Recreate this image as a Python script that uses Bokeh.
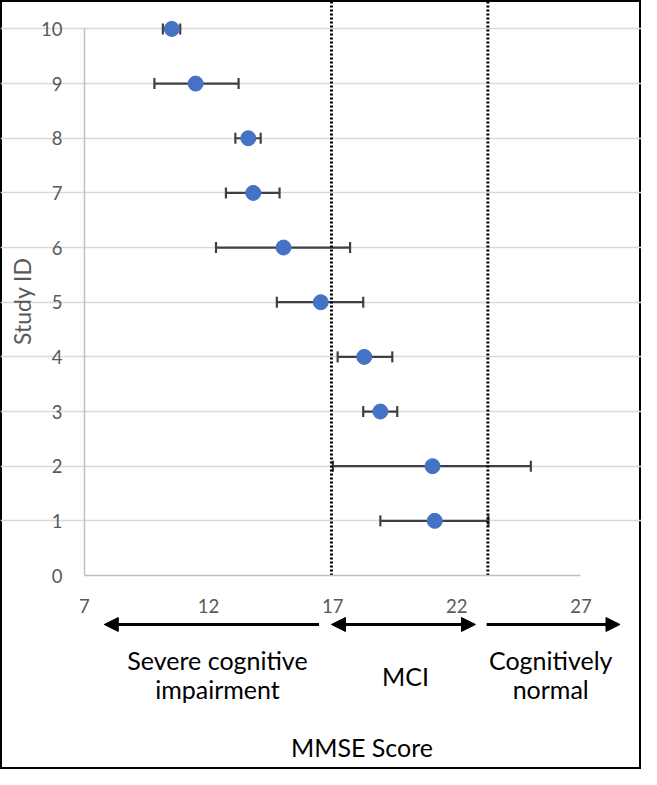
from bokeh.plotting import figure
from bokeh.models import (Range1d, FixedTicker, ColumnDataSource, Whisker, TeeHead,
                          Arrow, NormalHead, LinearAxis, Grid)
from bokeh.embed import file_html
from bokeh.resources import INLINE
from bokeh.core.properties import value
import math

# ---- data ----
study_id = [1, 2, 3, 4, 5, 6, 7, 8, 9, 10]
mmse_mean = [21.11, 21.02, 18.92, 18.27, 16.52, 15.02, 13.80, 13.60, 11.48, 10.52]
ci_low = [18.92, 17.01, 18.23, 17.20, 14.75, 12.30, 12.70, 13.08, 9.82, 10.16]
ci_high = [23.27, 24.98, 19.60, 19.40, 18.23, 17.70, 14.86, 14.10, 13.21, 10.86]

x_ticks = [7, 12, 17, 22, 27]
y_ticks = [0, 1, 2, 3, 4, 5, 6, 7, 8, 9, 10]
cutoffs = [16.95, 23.25]

category_names = ["Severe cognitive\nimpairment", "MCI", "Cognitively\nnormal"]
category_from = [16.45, 16.95, 23.20]
category_to = [7.80, 22.75, 28.57]
category_start_head = [False, True, False]

FONT = "Lato"
GRAY_TXT = "#595959"

p = figure(width=641, height=769, output_backend="svg", toolbar_location=None,
           x_range=Range1d(3.621, 29.437), y_range=Range1d(-3.549, 10.52),
           min_border=0, min_border_left=0, min_border_right=0,
           min_border_top=0, min_border_bottom=0,
           x_axis_type=None, y_axis_type=None)
p.outline_line_color = "black"
p.outline_line_width = 3
p.background_fill_color = "white"
p.border_fill_color = "white"

# axes fixed inside the frame
xaxis = LinearAxis(ticker=FixedTicker(ticks=x_ticks), fixed_location=0, bounds=(7, 27))
yaxis = LinearAxis(ticker=FixedTicker(ticks=y_ticks), fixed_location=7, bounds=(0, 10))
for ax in (xaxis, yaxis):
    ax.axis_line_color = "#bfbfbf"
    ax.axis_line_width = 1.5
    ax.major_tick_line_color = None
    ax.minor_tick_line_color = None
    ax.major_tick_out = 0
    ax.major_tick_in = 0
    ax.major_label_text_font = FONT
    ax.major_label_text_font_size = "18.5px"
    ax.major_label_text_color = GRAY_TXT
xaxis.major_label_standoff = 23
yaxis.major_label_standoff = 22
p.add_layout(xaxis, "below")
p.add_layout(yaxis, "left")

# horizontal gridlines bounded to the data area
g = Grid(dimension=1, ticker=FixedTicker(ticks=y_ticks[1:]), bounds=(7, 27))
g.grid_line_color = "#d9d9d9"
g.grid_line_width = 1.5
p.add_layout(g)

# cut-off dotted lines
p.segment(x0=cutoffs, y0=[0] * len(cutoffs), x1=cutoffs, y1=[p.y_range.end] * len(cutoffs),
          line_color="black", line_width=3, line_dash="2 2")

src = ColumnDataSource(dict(y=study_id, x=mmse_mean, lo=ci_low, hi=ci_high))
w = Whisker(source=src, base="y", lower="lo", upper="hi", dimension="width",
            line_color="#404040", line_width=2.2, level="underlay",
            lower_head=TeeHead(size=11, line_color="#404040", line_width=2.2),
            upper_head=TeeHead(size=11, line_color="#404040", line_width=2.2))
p.add_layout(w)
p.scatter("x", "y", source=src, size=15, fill_color="#4472C4", line_color="#4472C4")

# category arrows below the axis
arrow_y = -0.896
for a, b, both in zip(category_from, category_to, category_start_head):
    p.add_layout(Arrow(x_start=a, y_start=arrow_y, x_end=b, y_end=arrow_y,
                       line_color="black", line_width=3,
                       end=NormalHead(size=14, fill_color="black", line_color="black"),
                       start=NormalHead(size=14, fill_color="black", line_color="black") if both else None))

# category labels
lab_x, lab_y, lab_t = [], [], []
centers = [12.36, 19.93, 25.78]
for name, cx in zip(category_names, centers):
    lines = name.split("\n")
    ys = [-1.541, -2.079] if len(lines) == 2 else [-1.846]
    for t, yy in zip(lines, ys):
        lab_x.append(cx); lab_y.append(yy); lab_t.append(t)
p.text(x=lab_x, y=lab_y, text=lab_t, text_font=value(FONT), text_font_size="25px",
       text_color="black", text_align="center", text_baseline="alphabetic")

# axis titles
p.text(x=[18.18], y=[-3.136], text=["MMSE Score"], text_font=value(FONT),
       text_font_size="25px", text_color="black", text_align="center",
       text_baseline="alphabetic")
p.text(x=[4.485], y=[5.018], text=["Study ID"], text_font=value(FONT),
       text_font_size="23px", text_color=GRAY_TXT, text_align="center",
       text_baseline="middle", angle=math.pi / 2)

open("out.html", "w").write(file_html(p, INLINE))
